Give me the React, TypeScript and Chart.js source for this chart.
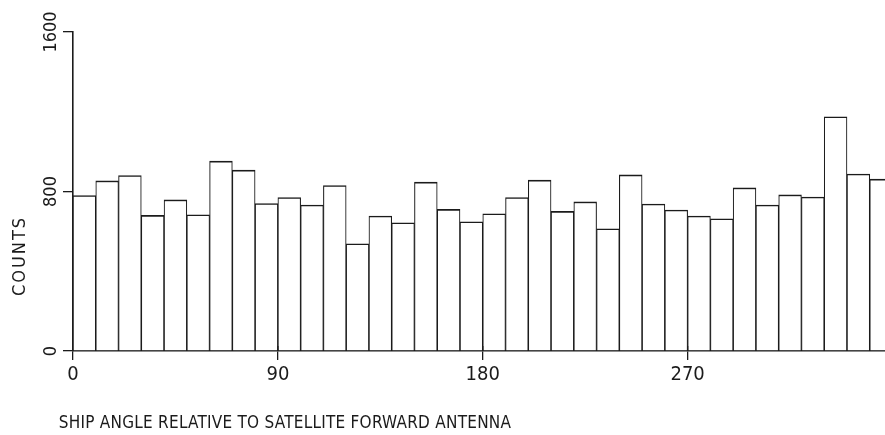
import { useEffect, useRef } from "react";
import { Chart, registerables } from "chart.js";

Chart.register(...registerables);

// Histogram bins: start angle of each 10-degree bin
const binStarts = [
  0, 10, 20, 30, 40, 50, 60, 70, 80, 90, 100, 110, 120, 130, 140, 150, 160, 170,
  180, 190, 200, 210, 220, 230, 240, 250, 260, 270, 280, 290, 300, 310, 320, 330, 340, 350,
];
const counts = [
  780, 853, 880, 680, 758, 683, 952, 907, 740, 770, 732, 830, 538, 677, 643, 847, 710, 648,
  688, 770, 857, 700, 748, 613, 883, 737, 707, 677, 663, 818, 732, 783, 772, 1175, 888, 862,
];
const binWidth = 10;
const xTickValues = [0, 90, 180, 270];
const yTickValues = [0, 800, 1600];
const yTitle = "COUNTS";
const xTitle = "SHIP ANGLE RELATIVE TO SATELLITE FORWARD ANTENNA";

const INK = "#1b1b1b";
const NARROW = '"Liberation Sans Narrow", "DejaVu Sans Condensed", sans-serif';

export default function App() {
  const ref = useRef<HTMLCanvasElement>(null);

  useEffect(() => {
    document.body.style.margin = "0";
    const canvas = ref.current;
    if (!canvas) return;

    const textPlugin = {
      id: "plotterText",
      afterDatasetsDraw(chart: any) {
        const ctx = chart.ctx;
        const xs = chart.scales.x;
        const bottom = chart.chartArea.bottom;
        ctx.save();
        ctx.strokeStyle = INK;
        ctx.lineWidth = 1.3;
        for (const v of xTickValues) {
          if (v === 0) continue;
          const px = xs.getPixelForValue(v);
          ctx.beginPath();
          ctx.moveTo(px, bottom - 5);
          ctx.lineTo(px, bottom);
          ctx.stroke();
        }
        ctx.restore();
      },
      afterDraw(chart: any) {
        const ctx = chart.ctx;
        const ys = chart.scales.y;
        const area = chart.chartArea;
        ctx.save();
        ctx.fillStyle = INK;
        ctx.textAlign = "center";
        ctx.textBaseline = "alphabetic";
        (ctx as any).letterSpacing = "0px";
        // rotated y tick labels
        ctx.font = `18px ${NARROW}`;
        for (const v of yTickValues) {
          ctx.save();
          ctx.translate(area.left - 17, ys.getPixelForValue(v));
          ctx.rotate(-Math.PI / 2);
          ctx.fillText(String(v), 0, 0);
          ctx.restore();
        }
        // y title
        ctx.font = `18px ${NARROW}`;
        (ctx as any).letterSpacing = "2px";
        ctx.save();
        ctx.translate(area.left - 48, area.bottom - 95);
        ctx.rotate(-Math.PI / 2);
        ctx.fillText(yTitle, 0, 0);
        ctx.restore();
        // x title
        ctx.font = `17px ${NARROW}`;
        (ctx as any).letterSpacing = "0.25px";
        ctx.fillText(xTitle, area.left + 212, area.bottom + 76.5);
        (ctx as any).letterSpacing = "0px";
        ctx.restore();
      },
    };

    const chart = new Chart(canvas, {
      type: "bar",
      data: {
        datasets: [
          {
            data: binStarts.map((s, i) => ({ x: s + binWidth / 2, y: counts[i] })),
            backgroundColor: "#ffffff",
            borderColor: INK,
            borderWidth: { top: 1.6, left: 1.1, right: 1.1, bottom: 0 },
            borderSkipped: "start",
            categoryPercentage: 1,
            barPercentage: 1,
          } as any,
        ],
      },
      options: {
        animation: false,
        responsive: false,
        layout: { padding: { top: 32, left: 0, right: 0, bottom: 0 } },
        plugins: { legend: { display: false }, tooltip: { enabled: false } },
        scales: {
          x: {
            type: "linear",
            min: 0,
            max: 356.7,
            offset: false,
            afterBuildTicks: (s: any) => {
              s.ticks = xTickValues.map((v) => ({ value: v }));
            },
            afterFit: (s: any) => {
              s.height = 84;
            },
            grid: {
              offset: false,
              drawOnChartArea: false,
              drawTicks: true,
              tickLength: 9,
              color: INK,
              tickColor: INK,
              lineWidth: 1.3,
            },
            border: { display: true, color: INK, width: 1.6 },
            ticks: {
              color: INK,
              font: { family: NARROW, size: 20 },
              padding: 3,
              maxRotation: 0,
              autoSkip: false,
            },
          },
          y: {
            min: 0,
            max: 1600,
            afterBuildTicks: (s: any) => {
              s.ticks = yTickValues.map((v) => ({ value: v }));
            },
            afterFit: (s: any) => {
              s.width = 73;
            },
            grid: {
              drawOnChartArea: false,
              drawTicks: true,
              tickLength: 10,
              color: INK,
              tickColor: INK,
              lineWidth: 1.3,
            },
            border: { display: true, color: INK, width: 1.6 },
            ticks: { display: false },
          },
        },
      } as any,
      plugins: [textPlugin],
    });

    return () => chart.destroy();
  }, []);

  return (
    <div style={{ width: 885, height: 435, background: "#fff" }}>
      <canvas ref={ref} width={885} height={435} />
    </div>
  );
}
